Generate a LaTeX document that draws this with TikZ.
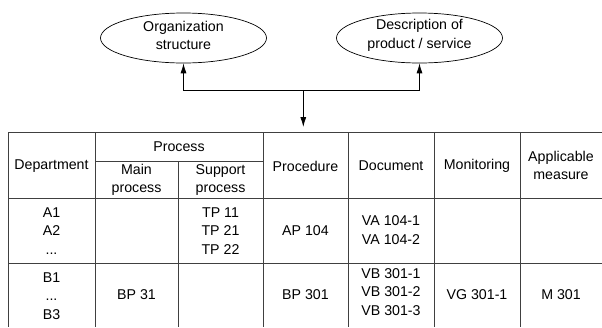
\documentclass[tikz,border=0pt]{standalone}
\usepackage{fontspec}
\setmainfont{Liberation Sans}
\usetikzlibrary{shapes.geometric,arrows.meta}
\begin{document}
\begin{tikzpicture}[x=1pt,y=-1pt,
  every node/.style={font=\fontsize{14.2}{18.5}\selectfont, inner sep=0pt, align=center},
  ell/.style={ellipse, draw=black, line width=0.7pt, minimum width=166pt, minimum height=50pt},
  arr/.style={draw=black, line width=0.8pt, -{Latex[length=10pt,width=6pt]}},
  grid/.style={draw=black!75, line width=0.8pt},
  cell/.style={anchor=center}]
\useasboundingbox (0,0) rectangle (602,327);
% ellipses
\node[ell] (org) at (183.5,38) {};
\node (orgt) at (183.5,35.5) {Organization\\structure};
\node[ell] (desc) at (419.5,38) {};
\node (desct) at (419.5,35.5) {Description of\\product / service};
% connectors
\coordinate (j) at (303.3,90.5);
\coordinate (tin) at (303.3,127);
\draw[arr] (j) -| (org.south);
\draw[arr] (j) -| (desc.south);
\draw[arr] (j) -- (tin);
% table lines
\draw[grid] (8,132.5) -- (602,132.5);
\draw[grid] (95,161.5) -- (263,161.5);
\draw[grid] (8,198) -- (602,198);
\draw[grid] (8,263) -- (602,263);
\draw[grid] (8,132.5) -- (8,327);
\draw[grid] (95,132.5) -- (95,327);
\draw[grid] (178,161.5) -- (178,327);
\draw[grid] (263,132.5) -- (263,327);
\draw[grid] (348,132.5) -- (348,327);
\draw[grid] (434,132.5) -- (434,327);
\draw[grid] (520,132.5) -- (520,327);
% header
\node[cell] (hdep) at (51.5,166) {Department};
\node[cell] (hproc) at (179,146.5) {Process};
\node[cell] (hmain) at (136.5,180) {Main\\process};
\node[cell] (hsup) at (220.5,180) {Support\\process};
\node[cell] (hpr) at (305.5,166) {Procedure};
\node[cell] (hdoc) at (391,166) {Document};
\node[cell] (hmon) at (477,166) {Monitoring};
\node[cell] (happ) at (561,165.5) {Applicable\\measure};
% row 1
\node[cell] (a1) at (51.5,231) {A1\\A2\\...};
\node[cell] (tp) at (220.5,231) {TP 11\\TP 21\\TP 22};
\node[cell] (ap) at (305.5,230.5) {AP 104};
\node[cell] (va) at (391,230) {VA 104-1\\VA 104-2};
% row 2
\node[cell] (b1) at (51.5,296) {B1\\...\\B3};
\node[cell] (bp) at (136.5,295) {BP 31};
\node[cell] (bp3) at (305.5,295) {BP 301};
\node[cell] (vb) at (391,292) {VB 301-1\\VB 301-2\\VB 301-3};
\node[cell] (vg) at (477,295) {VG 301-1};
\node[cell] (m) at (561,295) {M 301};
\end{tikzpicture}
\end{document}
